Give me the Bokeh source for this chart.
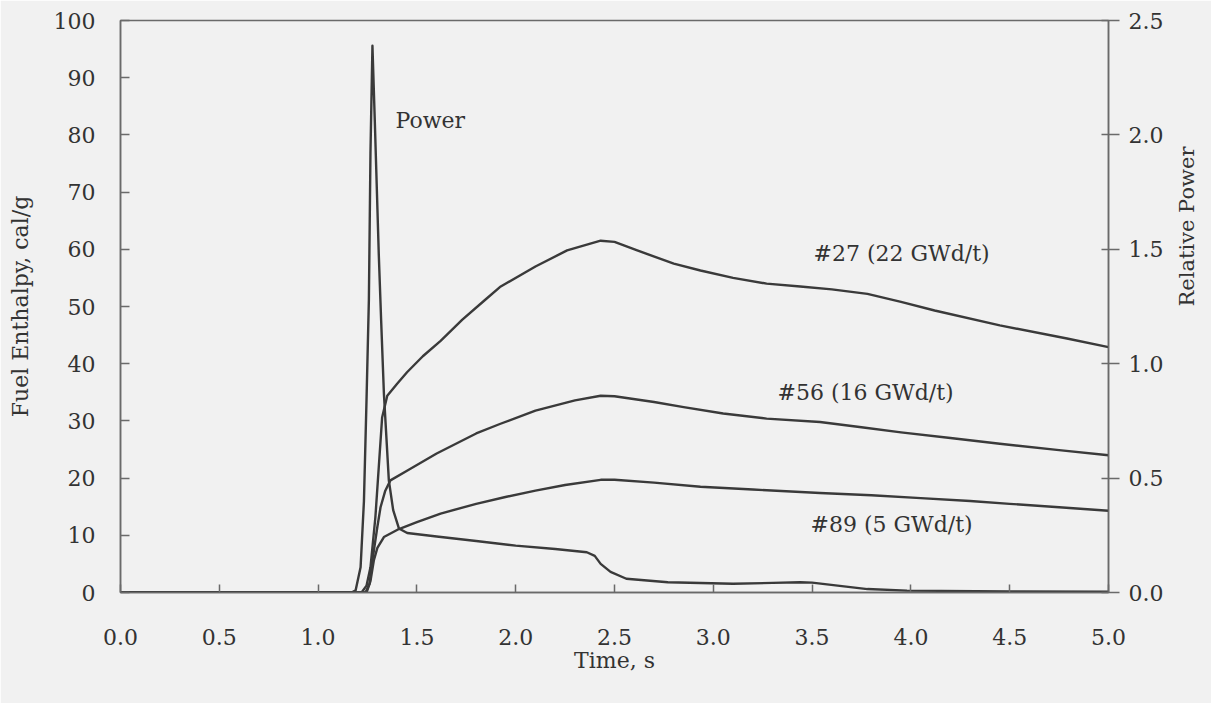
import math
from bokeh.plotting import figure
from bokeh.models import Range1d, LinearAxis, FixedTicker, PrintfTickFormatter
from bokeh.core.properties import value
from bokeh.embed import file_html
from bokeh.resources import INLINE

# ---------------- data ----------------
x_ticks = [0.0, 0.5, 1.0, 1.5, 2.0, 2.5, 3.0, 3.5, 4.0, 4.5, 5.0]
y_left_ticks = [0, 10, 20, 30, 40, 50, 60, 70, 80, 90, 100]
y_right_ticks = [0.0, 0.5, 1.0, 1.5, 2.0, 2.5]

# Relative power
t_power = [0.0, 1.17, 1.19, 1.215, 1.232, 1.245, 1.257, 1.265, 1.275, 1.287, 1.307,
           1.319, 1.333, 1.358, 1.38, 1.409, 1.451, 1.6, 1.8, 2.0, 2.2, 2.36, 2.40,
           2.43, 2.48, 2.56, 2.77, 3.1, 3.3, 3.44, 3.5, 3.78, 3.98, 4.5, 5.0]
power = [0.0, 0.0, 0.01, 0.11, 0.40, 0.84, 1.28, 1.92, 2.39, 2.06, 1.48,
         1.19, 0.87, 0.49, 0.36, 0.28, 0.26, 0.245, 0.225, 0.205, 0.19, 0.176, 0.16,
         0.125, 0.09, 0.06, 0.045, 0.038, 0.042, 0.045, 0.043, 0.015, 0.008, 0.005, 0.003]

# Fuel enthalpy, rod #27 (22 GWd/t)
t27 = [0.0, 1.22, 1.245, 1.265, 1.29, 1.307, 1.324, 1.35, 1.40, 1.45, 1.53, 1.62,
       1.73, 1.84, 1.92, 2.1, 2.26, 2.43, 2.5, 2.615, 2.8, 2.935, 3.1, 3.27, 3.44,
       3.6, 3.78, 3.95, 4.12, 4.45, 4.79, 5.0]
e27 = [0.0, 0.0, 1.2, 4.4, 13.2, 21.9, 30.6, 34.4, 36.5, 38.5, 41.3, 44.0,
       47.7, 51.0, 53.4, 57.0, 59.8, 61.5, 61.3, 59.8, 57.5, 56.3, 55.0, 54.0, 53.5,
       53.0, 52.2, 50.8, 49.3, 46.7, 44.4, 42.9]

# Fuel enthalpy, rod #56 (16 GWd/t)
t56 = [0.0, 1.24, 1.26, 1.282, 1.30, 1.316, 1.34, 1.366, 1.45, 1.6, 1.8, 1.923,
       2.1, 2.3, 2.43, 2.5, 2.7, 2.85, 3.05, 3.27, 3.54, 3.75, 3.95, 4.2, 4.45, 4.75, 5.0]
e56 = [0.0, 0.0, 1.5, 7.3, 11.5, 14.9, 17.8, 19.6, 21.3, 24.3, 27.8, 29.5,
       31.8, 33.6, 34.4, 34.3, 33.3, 32.4, 31.3, 30.4, 29.8, 28.9, 28.0, 27.0, 26.0, 24.9, 24.0]

# Fuel enthalpy, rod #89 (5 GWd/t)
t89 = [0.0, 1.245, 1.265, 1.282, 1.30, 1.333, 1.409, 1.5, 1.62, 1.8, 1.948, 2.1,
       2.25, 2.43, 2.5, 2.7, 2.935, 3.2, 3.54, 3.8, 4.05, 4.3, 4.5, 4.75, 5.0]
e89 = [0.0, 0.0, 2.0, 5.6, 7.8, 9.7, 11.1, 12.3, 13.8, 15.5, 16.7, 17.8,
       18.8, 19.7, 19.7, 19.2, 18.5, 18.0, 17.4, 17.0, 16.5, 16.0, 15.5, 14.9, 14.3]

# ---------------- styling ----------------
FONT = "DejaVu Serif"
BG = "#f1f1f1"
INK = "#333333"
LINE = "#3a3a3a"
AXIS = "#6a6a6a"

p = figure(
    frame_width=988, frame_height=572,
    min_border_left=120, min_border_right=103, min_border_top=20, min_border_bottom=111,
    x_range=Range1d(0, 5), y_range=Range1d(0, 100),
    output_backend="svg", toolbar_location=None,
    background_fill_color=BG, border_fill_color=BG,
)
p.extra_y_ranges = {"power": Range1d(0, 2.5)}
p.grid.visible = False
p.outline_line_color = AXIS
p.outline_line_width = 1.5

# bottom axis
xa = p.xaxis[0]
xa.ticker = FixedTicker(ticks=x_ticks)
xa.formatter = PrintfTickFormatter(format="%.1f")
xa.axis_label = "Time, s"
xa.major_tick_in = 8
xa.major_tick_out = 0
xa.major_label_standoff = 36
xa.axis_label_standoff = 0

# left axis
ya = p.yaxis[0]
ya.ticker = FixedTicker(ticks=y_left_ticks)
ya.axis_label = "Fuel Enthalpy, cal/g"
ya.major_tick_in = 9
ya.major_tick_out = 0
ya.major_label_standoff = 25
ya.axis_label_standoff = 18

# right axis (ticks and numbers)
ra = LinearAxis(y_range_name="power", ticker=FixedTicker(ticks=y_right_ticks),
                formatter=PrintfTickFormatter(format="%.1f"))
ra.major_tick_in = 7
ra.major_tick_out = 11
ra.major_label_standoff = 9
p.add_layout(ra, "right")

for ax in [xa, ya, ra]:
    ax.axis_line_color = AXIS
    ax.axis_line_width = 1.5
    ax.major_tick_line_color = AXIS
    ax.major_tick_line_width = 1.5
    ax.minor_tick_line_color = None
    ax.major_label_text_font = FONT
    ax.major_label_text_font_size = "22px"
    ax.major_label_text_color = INK
    ax.axis_label_text_font = FONT
    ax.axis_label_text_font_size = "22px"
    ax.axis_label_text_font_style = "normal"
    ax.axis_label_text_color = INK

# right axis title: an unticked companion axis whose span places the title
# a little above the middle of the plot, reading bottom-to-top as in the reference
rt = LinearAxis(y_range_name="power", ticker=FixedTicker(ticks=[]), bounds=(0, 2.01),
                axis_label="Relative Power", axis_label_orientation=math.pi / 2,
                axis_line_color=None, major_tick_line_color=None, minor_tick_line_color=None,
                major_tick_in=0, major_tick_out=0, major_label_standoff=0,
                axis_label_standoff=20, axis_label_text_font=FONT,
                axis_label_text_font_size="21px", axis_label_text_font_style="normal",
                axis_label_text_color=INK)
p.add_layout(rt, "right")

# curves
p.line(t_power, power, y_range_name="power", line_color=LINE, line_width=2.4, line_join="round")
p.line(t27, e27, line_color=LINE, line_width=2.4, line_join="round")
p.line(t56, e56, line_color=LINE, line_width=2.4, line_join="round")
p.line(t89, e89, line_color=LINE, line_width=2.4, line_join="round")

# curve labels
p.text(x=[1.392, 3.507, 3.325, 3.492], y=[82.5, 59.3, 35.0, 11.9],
       text=["Power", "#27 (22 GWd/t)", "#56 (16 GWd/t)", "#89 (5 GWd/t)"],
       text_font=value(FONT), text_font_size="22px", text_color=INK,
       text_align="left", text_baseline="middle")

open("out.html", "w").write(file_html(p, INLINE))
